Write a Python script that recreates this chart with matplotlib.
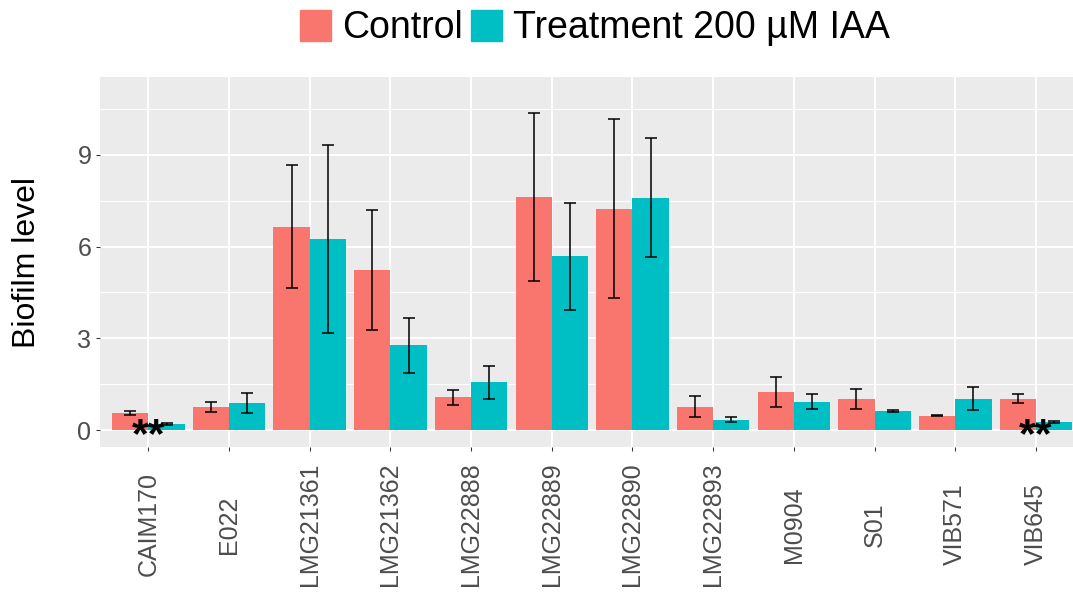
import matplotlib.pyplot as plt
import numpy as np
from matplotlib.patches import Patch

plt.rcParams['font.family'] = ['Liberation Sans', 'DejaVu Sans']

strains = ["CAIM170", "E022", "LMG21361", "LMG21362", "LMG22888", "LMG22889",
           "LMG22890", "LMG22893", "M0904", "S01", "VIB571", "VIB645"]
control = [0.56, 0.76, 6.65, 5.23, 1.07, 7.61, 7.24, 0.76, 1.24, 1.02, 0.47, 1.03]
control_err = [0.07, 0.17, 2.02, 1.97, 0.25, 2.75, 2.93, 0.35, 0.48, 0.33, 0.02, 0.16]
treatment = [0.20, 0.89, 6.25, 2.77, 1.56, 5.68, 7.60, 0.34, 0.93, 0.62, 1.03, 0.25]
treatment_err = [0.02, 0.33, 3.07, 0.90, 0.55, 1.74, 1.95, 0.07, 0.24, 0.02, 0.39, 0.03]
star_groups = ["CAIM170", "VIB645"]

red = '#F8766D'
cyan = '#00BFC4'

fig = plt.figure(figsize=(10.73, 5.94), dpi=100)
ax = fig.add_axes([100/1073, 1 - 447/594, 973/1073, 370/594])
ax.set_facecolor('#EBEBEB')

x = np.arange(1, len(strains) + 1)
w = 0.45
ax.bar(x - w/2, control, w, color=red, zorder=2)
ax.bar(x + w/2, treatment, w, color=cyan, zorder=2)
ax.errorbar(x - w/2, control, yerr=control_err, fmt='none', ecolor='black',
            elinewidth=1.1, capsize=4.6, capthick=1.1, zorder=3)
ax.errorbar(x + w/2, treatment, yerr=treatment_err, fmt='none', ecolor='black',
            elinewidth=1.1, capsize=4.6, capthick=1.1, zorder=3)

# significance marks
for s in star_groups:
    i = strains.index(s) + 1
    ax.text(i, -0.55, '**', ha='center', va='baseline', fontsize=31,
            fontweight='bold', zorder=4)

ax.set_xlim(0.4, 12.46)
ax.set_ylim(-0.556, 11.55)
ax.set_yticks([0, 3, 6, 9])
ax.set_yticks([1.5, 4.5, 7.5, 10.5], minor=True)
ax.set_xticks(x)
ax.set_xticklabels(strains, rotation=90, ha='center', va='center')
ax.set_axisbelow(True)
ax.grid(which='major', color='white', lw=1.4)
ax.grid(which='minor', axis='y', color='white', lw=0.8)
for sp in ax.spines.values():
    sp.set_visible(False)

ax.tick_params(axis='y', which='major', labelsize=18, labelcolor='#4D4D4D',
               color='#333333', length=2.75, width=0.75, pad=3.5)
ax.tick_params(axis='y', which='minor', length=0)
ax.tick_params(axis='x', labelsize=18, labelcolor='#4D4D4D',
               color='#333333', length=2.75, width=0.75, pad=53)

fig.text(27/1073, 1 - 262/594, 'Biofilm level', rotation=90, ha='center',
         va='center', fontsize=23)

handles = [Patch(color=red, label='Control'),
           Patch(color=cyan, label='Treatment 200 µM IAA')]
fig.legend(handles=handles, loc='center', bbox_to_anchor=(595/1073, 1 - 28/594),
           ncol=2, frameon=False, fontsize=27, handlelength=0.83, handleheight=0.88,
           handletextpad=0.3, columnspacing=0.2, borderpad=0, borderaxespad=0)

fig.savefig('out.png', dpi=100)
